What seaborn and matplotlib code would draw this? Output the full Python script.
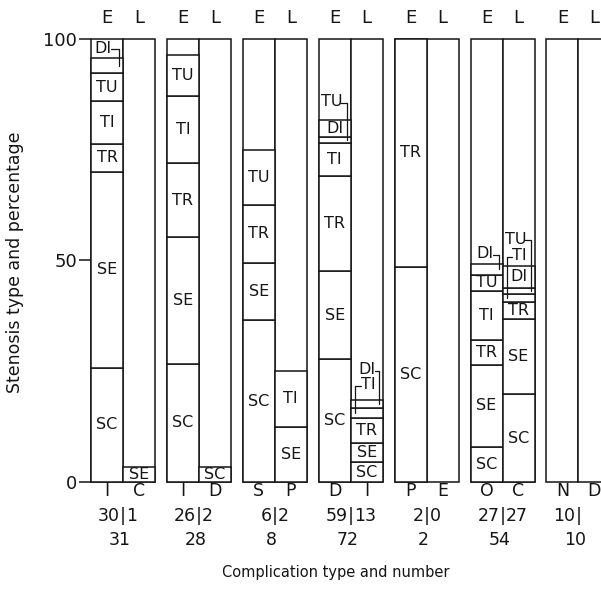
import matplotlib
matplotlib.use("Agg")
import matplotlib.pyplot as plt
import pandas as pd
import seaborn as sns

# ---------------- data ----------------
early_codes = ["I", "I", "S", "D", "P", "O", "N"]
late_codes = ["C", "D", "P", "I", "E", "C", "D"]
early_n = ["30", "26", "6", "59", "2", "27", "10"]
late_n = ["1", "2", "2", "13", "0", "27", ""]
total_n = ["31", "28", "8", "72", "2", "54", "10"]
period_labels = ["E", "L"]

# stacked segments: stenosis type and cumulative top (percent of group)
g1_early_types = ["SC", "SE", "TR", "TI", "TU", "DI"]
g1_early_tops = [25.8, 69.9, 76.3, 85.9, 92.2, 95.7]
g1_late_types = ["SE"]
g1_late_tops = [3.4]

g2_early_types = ["SC", "SE", "TR", "TI", "TU"]
g2_early_tops = [26.7, 55.3, 71.9, 87.1, 96.3]
g2_late_types = ["SC"]
g2_late_tops = [3.4]

g3_early_types = ["SC", "SE", "TR", "TU"]
g3_early_tops = [36.5, 49.5, 62.5, 75.0]
g3_late_types = ["SE", "TI"]
g3_late_tops = [12.5, 25.0]

g4_early_types = ["SC", "SE", "TR", "TI", "TU", "DI"]
g4_early_tops = [27.7, 47.6, 69.0, 76.5, 77.8, 81.6]
g4_late_types = ["SC", "SE", "TR", "TI", "DI"]
g4_late_tops = [4.5, 8.7, 14.5, 16.6, 18.5]

g5_early_types = ["SC", "TR"]
g5_early_tops = [48.5, 100.0]
g5_late_types = []
g5_late_tops = []

g6_early_types = ["SC", "SE", "TR", "TI", "TU", "DI"]
g6_early_tops = [8.0, 26.5, 32.0, 43.0, 46.8, 49.2]
g6_late_types = ["SC", "SE", "TR", "TI", "TU", "DI"]
g6_late_tops = [19.8, 36.8, 40.6, 42.4, 43.8, 48.7]

g7_early_types = []
g7_early_tops = []
g7_late_types = []
g7_late_tops = []

segments = [
    (g1_early_types, g1_early_tops), (g1_late_types, g1_late_tops),
    (g2_early_types, g2_early_tops), (g2_late_types, g2_late_tops),
    (g3_early_types, g3_early_tops), (g3_late_types, g3_late_tops),
    (g4_early_types, g4_early_tops), (g4_late_types, g4_late_tops),
    (g5_early_types, g5_early_tops), (g5_late_types, g5_late_tops),
    (g6_early_types, g6_early_tops), (g6_late_types, g6_late_tops),
    (g7_early_types, g7_early_tops), (g7_late_types, g7_late_tops),
]

# labels written outside their (thin) segment, with a bracket:
# (bar index, type) -> (label y, label dx px, bracket side)
external = {
    (0, "DI"): (97.9, -4, "r"),
    (6, "TU"): (85.9, -3, "r"),
    (7, "DI"): (25.3, 0, "r"),
    (7, "TI"): (22.0, 2, "l"),
    (10, "DI"): (51.6, -2, "r"),
    (11, "TU"): (54.8, -3, "r"),
    (11, "TI"): (51.0, 1, "l"),
}

# ---------------- layout ----------------
W, H = 601, 590
BAR_W = 32.0
PITCH = 75.9
FIRST_BOUNDARY = 123.0
Y0_PX, Y100_PX = 482.0, 38.7
PPU = (Y0_PX - Y100_PX) / 100.0
INK = "#151515"
LW = 1.1
YLO, YHI = -1.0, 101.0
AX_LEFT = 85.0


def vy(px):
    return (Y0_PX - px) / PPU


sns.set_theme(style="white")
plt.rcParams["font.family"] = ["DejaVu Sans"]

fig = plt.figure(figsize=(W / 100, H / 100), dpi=100)
p_bot = Y0_PX - YLO * PPU
p_top = Y0_PX - YHI * PPU
ax = fig.add_axes([AX_LEFT / W, 1 - p_bot / H, (W - AX_LEFT) / W, (p_bot - p_top) / H])

boundaries = [FIRST_BOUNDARY + PITCH * g for g in range(len(early_codes))]
centers = []
for b in boundaries:
    centers += [b - BAR_W / 2, b + BAR_W / 2]

# full-height bar frames
frames = pd.DataFrame({"x": centers, "y": [100.0] * len(centers)})
sns.barplot(data=frames, x="x", y="y", native_scale=True, orient="x", width=1.0,
            color="white", saturation=1, edgecolor=INK, linewidth=LW,
            errorbar=None, ax=ax)

# stacked segments
for i, (types, tops) in enumerate(segments):
    xc = centers[i]
    bottom = 0.0
    for t, top in zip(types, tops):
        sns.barplot(x=[xc], y=[top - bottom], bottom=bottom, native_scale=True,
                    orient="x", width=BAR_W, color="white", saturation=1,
                    edgecolor=INK, linewidth=LW, errorbar=None, ax=ax)
        key = (i, t)
        if key in external:
            ly, dx, side = external[key]
            ax.text(xc + dx, ly, t, ha="center", va="center", fontsize=11.5, color=INK)
            mid = (bottom + top) / 2
            if side == "r":
                xb = xc + BAR_W / 2 - 4
                ytop = ly - 0.3
                ax.plot([xc + dx + 8, xb], [ytop, ytop], color=INK, lw=0.9)
                ax.plot([xb, xb], [ytop, mid], color=INK, lw=0.9)
            else:
                xb = xc - BAR_W / 2 + 4
                ytop = ly - 0.3
                ax.plot([xc + dx - 8, xb], [ytop, ytop], color=INK, lw=0.9)
                ax.plot([xb, xb], [ytop, mid], color=INK, lw=0.9)
        else:
            ax.text(xc, (bottom + top) / 2, t, ha="center", va="center",
                    fontsize=11.5, color=INK)
        bottom = top

# period labels on top, complication codes and numbers below
for g, b in enumerate(boundaries):
    ax.text(b - BAR_W / 2, vy(18), period_labels[0], ha="center", va="center", fontsize=13, color=INK)
    ax.text(b + BAR_W / 2, vy(18), period_labels[1], ha="center", va="center", fontsize=13, color=INK)
    ax.text(b - BAR_W / 2, vy(491), early_codes[g], ha="center", va="center", fontsize=12.5, color=INK)
    ax.text(b + BAR_W / 2, vy(491), late_codes[g], ha="center", va="center", fontsize=12.5, color=INK)
    ax.text(b - 3, vy(516), early_n[g], ha="right", va="center", fontsize=12.5, color=INK)
    ax.text(b, vy(516), "|", ha="center", va="center", fontsize=12.5, color=INK)
    ax.text(b + 3, vy(516), late_n[g], ha="left", va="center", fontsize=12.5, color=INK)
    ax.text(b - 3, vy(540), total_n[g], ha="center", va="center", fontsize=12.5, color=INK)

ax.set_xlim(AX_LEFT, W)
ax.set_ylim(YLO, YHI)
for s in ax.spines.values():
    s.set_visible(False)
ax.set_xticks([])
ax.set_yticks([0, 50, 100])
ax.set_yticklabels(["0", "50", "100"])
ax.tick_params(axis="y", direction="inout", length=9, width=LW, color=INK,
               labelsize=13, labelcolor=INK, pad=1, left=True)
ax.set_xlabel("Complication type and number", fontsize=10.5, color=INK)
ax.set_ylabel("Stenosis type and percentage", fontsize=12.5, color=INK)
ax.xaxis.set_label_coords((336 - AX_LEFT) / (W - AX_LEFT), (p_bot - 572) / (p_bot - p_top))
ax.yaxis.set_label_coords((15 - AX_LEFT) / (W - AX_LEFT), (p_bot - 262) / (p_bot - p_top))
ax.yaxis.label.set_va("center")
ax.xaxis.label.set_va("center")

fig.savefig("out.png", dpi=100)
